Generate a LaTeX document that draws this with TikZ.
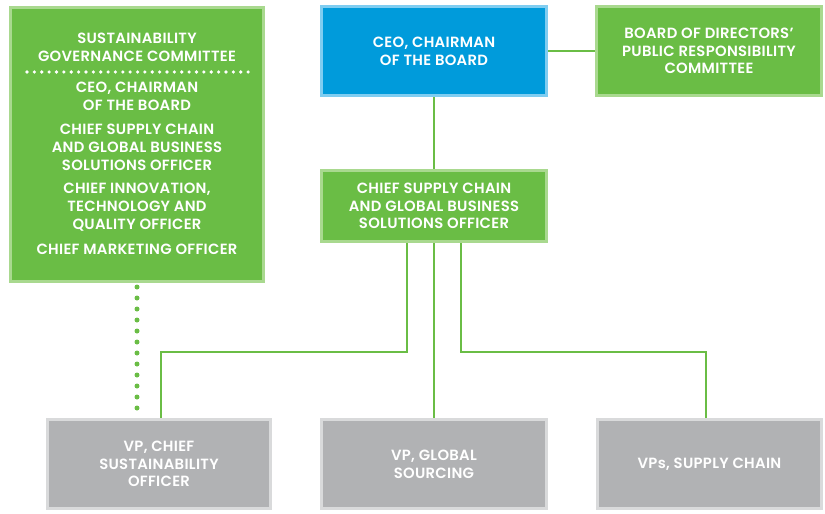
\documentclass[tikz,border=0pt]{standalone}
\usepackage{fontspec}
\setmainfont{Poppins}[UprightFont=* SemiBold, LetterSpace=2]
\definecolor{gfill}{HTML}{6ABD45}
\definecolor{gbord}{HTML}{A9D98F}
\definecolor{bfill}{HTML}{009BDB}
\definecolor{bbord}{HTML}{7FCDF1}
\definecolor{yfill}{HTML}{B1B2B4}
\definecolor{ybord}{HTML}{D9DADB}
\begin{document}
\begin{tikzpicture}[x=1pt,y=-1pt,
  box/.style={rectangle, line width=3pt, inner sep=0pt, text=white, align=center,
    font=\fontsize{14.8}{17.7}\selectfont},
  greenbox/.style={box, draw=gbord, fill=gfill},
  bluebox/.style={box, draw=bbord, fill=bfill},
  greybox/.style={box, draw=ybord, fill=yfill},
  txt/.style={text=white, align=center, inner sep=0pt, font=\fontsize{14.8}{17.7}\selectfont},
  link/.style={draw=gfill, line width=1.6pt},
  dotline/.style={draw=gfill, line width=5pt, line cap=round, dash pattern=on 0pt off 11pt},
  sepdots/.style={draw=white, line width=3.6pt, line cap=round, dash pattern=on 0pt off 7.37pt}]
\useasboundingbox (0,0) rectangle (825,514);
% boxes
\node[greenbox, minimum width=253pt, minimum height=274pt] (gov) at (137,144.5) {};
\node[bluebox, minimum width=225pt, minimum height=89pt] (ceo) at (434,51) {CEO, CHAIRMAN\\OF THE BOARD};
\node[greenbox, minimum width=225pt, minimum height=89pt] (board) at (709,51) {BOARD OF DIRECTORS’\\PUBLIC RESPONSIBILITY\\COMMITTEE};
\node[greenbox, minimum width=225pt, minimum height=71pt] (mid) at (434,206) {CHIEF SUPPLY CHAIN\\AND GLOBAL BUSINESS\\SOLUTIONS OFFICER};
\node[greybox, minimum width=223pt, minimum height=89pt] (vpcso) at (159,464) {VP, CHIEF\\SUSTAINABILITY\\OFFICER};
\node[greybox, minimum width=225pt, minimum height=89pt] (vpgs) at (434,464) {VP, GLOBAL\\SOURCING};
\node[greybox, minimum width=224pt, minimum height=89pt] (vpsc) at (709.5,464) {VPs, SUPPLY CHAIN};
% texts in governance box
\node[txt] (t1) at (137,47) {SUSTAINABILITY\\GOVERNANCE COMMITTEE};
\coordinate (sepl) at (27,72);
\coordinate (sepr) at (249,72);
\draw[sepdots] (sepl) -- (sepr);
\node[txt] (t2) at (137,96.5) {CEO, CHAIRMAN\\OF THE BOARD};
\node[txt] (t3) at (137,147.5) {CHIEF SUPPLY CHAIN\\AND GLOBAL BUSINESS\\SOLUTIONS OFFICER};
\node[txt] (t4) at (137,207) {CHIEF INNOVATION,\\TECHNOLOGY AND\\QUALITY OFFICER};
\node[txt] (t5) at (137,249) {CHIEF MARKETING OFFICER};
% connectors
\draw[link] (ceo.east) -- (board.west);
\draw[link] (ceo.south) -- (mid.north);
\coordinate (jl) at (161,352);
\coordinate (jr) at (706,352);
\draw[link] ([xshift=-27pt]mid.south) |- (jl) -- (jl |- vpcso.north);
\draw[link] (mid.south) -- (vpgs.north);
\draw[link] ([xshift=27pt]mid.south) |- (jr) -- (jr |- vpsc.north);
\draw[dotline] ([yshift=-4pt]gov.south) -- (gov.south |- vpcso.north);
\end{tikzpicture}
\end{document}
